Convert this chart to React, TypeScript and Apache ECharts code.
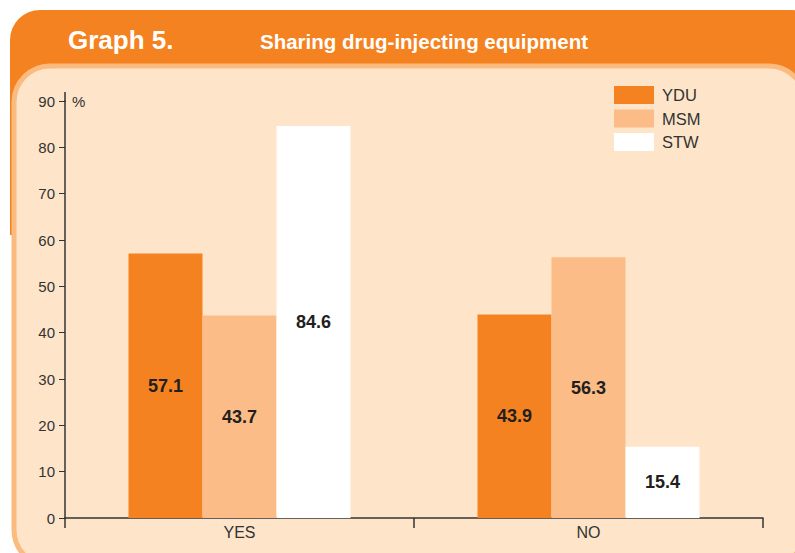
import React, { useEffect, useRef } from "react";
import * as echarts from "echarts";

const categories = ["YES", "NO"];
const seriesNames = ["YDU", "MSM", "STW"];
const yduValues = [57.1, 43.9];
const msmValues = [43.7, 56.3];
const stwValues = [84.6, 15.4];
const yTickMax = 90;
const yTickStep = 10;

const FONT = "'Liberation Sans', Arial, Helvetica, sans-serif";
const COLORS = ["#F58220", "#FBBC87", "#FFFFFF"];

export default function App() {
  const ref = useRef<HTMLDivElement>(null);
  useEffect(() => {
    if (!ref.current) return;
    const chart = echarts.init(ref.current, null, { renderer: "svg" });
    const values = [yduValues, msmValues, stwValues];
    chart.setOption({
      animation: false,
      backgroundColor: "#FFFFFF",
      textStyle: { fontFamily: FONT },
      graphic: [
        {
          type: "rect",
          z: -20,
          shape: { x: 10, y: 10, width: 812, height: 90, r: [30, 30, 0, 0] },
          style: { fill: "#F58220" },
        },
        {
          type: "rect",
          z: -20,
          shape: { x: 10, y: 60, width: 8, height: 175 },
          style: { fill: "#F58220" },
        },
        {
          type: "rect",
          z: -19,
          shape: { x: 14, y: 66, width: 791, height: 500, r: 36 },
          style: { fill: "#FEE5C9", stroke: "#FBBA7E", lineWidth: 5 },
        },
        {
          type: "text",
          z: 10,
          x: 68,
          y: 40,
          style: {
            text: "Graph 5.",
            fill: "#FFFFFF",
            font: `bold 26px ${FONT}`,
            verticalAlign: "middle",
          },
        },
        {
          type: "text",
          z: 10,
          x: 260,
          y: 41,
          style: {
            text: "Sharing drug-injecting equipment",
            fill: "#FFFFFF",
            font: `bold 20.5px ${FONT}`,
            verticalAlign: "middle",
          },
        },
        {
          type: "text",
          z: 10,
          x: 72,
          y: 101,
          style: {
            text: "%",
            fill: "#333333",
            font: `15px ${FONT}`,
            verticalAlign: "middle",
          },
        },
        {
          type: "line",
          z: 10,
          shape: { x1: 65, y1: 92, x2: 65, y2: 102 },
          style: { stroke: "#333333", lineWidth: 1.5 },
        },
      ],
      legend: {
        orient: "vertical",
        left: 614,
        top: 86,
        padding: 0,
        itemWidth: 40,
        itemHeight: 18,
        itemGap: 5.5,
        icon: "rect",
        data: seriesNames,
        textStyle: {
          fontFamily: FONT,
          fontSize: 16.5,
          color: "#333333",
          padding: [0, 0, 0, 3],
        },
      },
      grid: { left: 65, right: 32, top: 101, bottom: 35, containLabel: false },
      xAxis: {
        type: "category",
        data: categories,
        axisLine: { lineStyle: { color: "#333333", width: 1.5 } },
        axisTick: { show: true, length: 10, lineStyle: { color: "#333333", width: 1.5 } },
        axisLabel: { color: "#333333", fontSize: 16, margin: 6, fontFamily: FONT },
      },
      yAxis: {
        type: "value",
        min: 0,
        max: yTickMax,
        interval: yTickStep,
        splitLine: { show: false },
        axisLine: { show: true, lineStyle: { color: "#333333", width: 1.5 } },
        axisTick: { show: true, length: 6, lineStyle: { color: "#333333", width: 1 } },
        axisLabel: { color: "#333333", fontSize: 15, margin: 10, fontFamily: FONT },
      },
      series: seriesNames.map((name, i) => ({
        name,
        type: "bar",
        data: values[i],
        barWidth: 74,
        barGap: "0%",
        itemStyle: { color: COLORS[i] },
        label: {
          show: true,
          position: "inside",
          color: "#231F20",
          fontWeight: "bold",
          fontSize: 18,
          fontFamily: FONT,
          formatter: (p: any) => Number(p.value).toFixed(1),
        },
      })),
    });
    return () => chart.dispose();
  }, []);
  return (
    <div
      ref={ref}
      style={{ position: "fixed", left: 0, top: 0, width: 795, height: 553 }}
    />
  );
}
